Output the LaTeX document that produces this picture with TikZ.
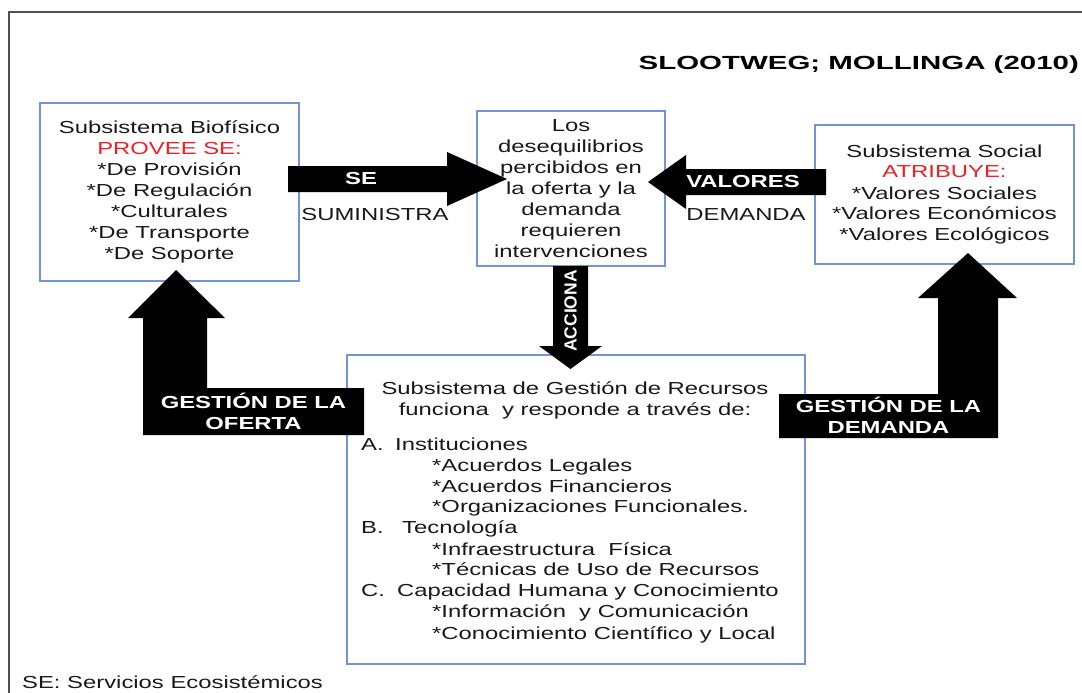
\documentclass[tikz,border=0pt]{standalone}
\usepackage{fontspec}
\setmainfont{Liberation Sans}[FakeStretch=1.37]
\newfontfamily\upsans{Liberation Sans}
\newfontfamily\headsans{Liberation Sans}[FakeStretch=1.55]

\definecolor{boxblue}{RGB}{114,147,214}
\definecolor{hotred}{RGB}{238,32,36}
\definecolor{ink}{RGB}{25,25,25}
\definecolor{framegray}{RGB}{80,80,80}

\begin{document}
\begin{tikzpicture}[x=1pt,y=-1pt,
  txt/.style={font=\fontsize{17.4}{21}\selectfont, text=ink, inner sep=0pt},
  sbox/.style={draw=boxblue, line width=1.2pt, fill=white, align=center, txt},
  blk/.style={fill=black},
  wlab/.style={font=\fontsize{17.4}{21}\selectfont\bfseries, text=white, inner sep=0pt, align=center},
  line/.style={txt, anchor=base west},
]
\useasboundingbox (0,0) rectangle (1082,693);

% outer frame
\draw[framegray, line width=1.5pt] (9,700) -- (9,12) -- (1090,12);

% title
\node[font=\headsans\fontsize{19}{22}\selectfont\bfseries, text=black, inner sep=0pt, anchor=east]
  (title) at (1079,65) {SLOOTWEG; MOLLINGA (2010)};

% subsystem boxes
\node[sbox, minimum width=259pt, minimum height=178pt] (bio) at (169.5,192)
  {Subsistema Biofísico\\ \textcolor{hotred}{PROVEE SE:}\\ *De Provisión\\ *De Regulación\\
   *Culturales\\ *De Transporte\\ *De Soporte};
\node[sbox, minimum width=188pt, minimum height=155pt] (des) at (571,188.5)
  {Los\\ desequilibrios\\ percibidos en\\ la oferta y la\\ demanda\\ requieren\\ intervenciones};
\node[sbox, minimum width=259pt, minimum height=139pt] (soc) at (944.5,194.5)
  {Subsistema Social\\ \textcolor{hotred}{ATRIBUYE:}\\ *Valores Sociales\\ *Valores Económicos\\ *Valores Ecológicos};
\node[sbox, minimum width=458pt, minimum height=309pt] (gr) at (576,509.5) {};

% contents of the resource management box
\node[txt, anchor=base] (grh1) at (575,394) {Subsistema de Gestión de Recursos};
\node[txt, anchor=base] (grh2) at (575,415) {funciona\ \ y responde a través de:};
\node[line] (la)  at (361,450) {\makebox[34pt][l]{A.}Instituciones};
\node[line] (la1) at (432,471) {*Acuerdos Legales};
\node[line] (la2) at (432,492) {*Acuerdos Financieros};
\node[line] (la3) at (432,512) {*Organizaciones\ Funcionales.};
\node[line] (lb)  at (361,533) {\makebox[41pt][l]{B.}Tecnología};
\node[line] (lb1) at (432,555) {*Infraestructura\ \ Física};
\node[line] (lb2) at (432,575) {*Técnicas de Uso de Recursos};
\node[line] (lc)  at (361,596) {\makebox[36pt][l]{C.}Capacidad Humana y Conocimiento};
\node[line] (lc1) at (432,617) {*Información\ \ y Comunicación};
\node[line] (lc2) at (432,639) {*Conocimiento Científico y Local};

% block arrows
\fill[blk] (288,166) -- (447,166) -- (447,152) -- (507,179) -- (447,206) -- (447,192) -- (288,192) -- cycle;
\fill[blk] (826,169) -- (686,169) -- (686,155) -- (648,182) -- (686,209) -- (686,195) -- (826,195) -- cycle;
\fill[blk] (553,266) -- (588,266) -- (588,346) -- (602,346) -- (570.5,369) -- (539,346) -- (553,346) -- cycle;
\fill[blk] (143,435) -- (143,318) -- (128,318) -- (176,270) -- (225,318) -- (207,318)
  -- (207,388) -- (364,388) -- (364,435) -- cycle;
\fill[blk] (998,438) -- (998,298) -- (1017,298) -- (968,253) -- (918,298) -- (938,298)
  -- (938,394) -- (779,394) -- (779,438) -- cycle;

% arrow labels
\node[wlab] (se) at (361,179) {SE};
\node[txt] (sum) at (375,215) {SUMINISTRA};
\node[wlab] (val) at (743,182) {VALORES};
\node[txt] (dem) at (746,215) {DEMANDA};
\node[font=\upsans\fontsize{17.5}{20}\selectfont\bfseries, text=white, inner sep=0pt, rotate=90]
  (acc) at (570.5,311) {ACCIONA};
\node[wlab] (gof) at (253.5,411) {GESTIÓN DE LA\\ OFERTA};
\node[wlab] (gde) at (888.5,415) {GESTIÓN DE LA\\ DEMANDA};

% footnote
\node[txt, anchor=west] (note) at (22,682) {SE: Servicios Ecosistémicos};
\end{tikzpicture}
\end{document}
